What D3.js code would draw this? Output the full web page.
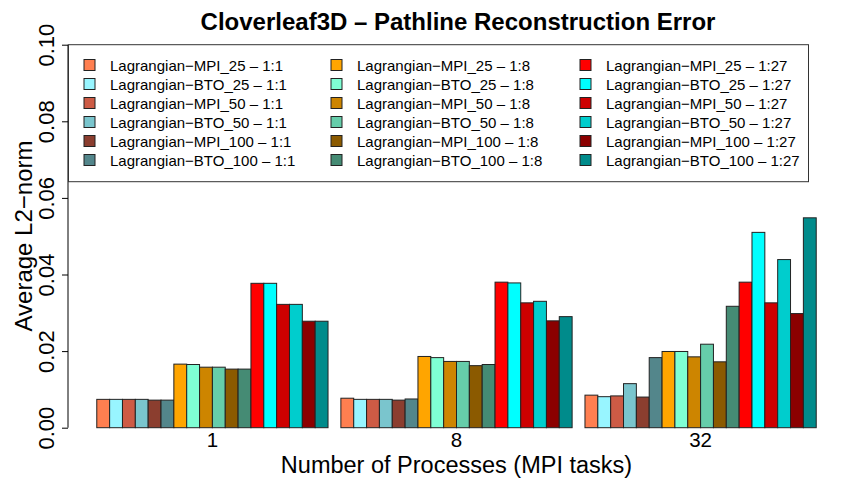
<!DOCTYPE html>
<html>
<head>
<meta charset="utf-8">
<script src="https://cdn.jsdelivr.net/npm/d3@7"></script>
<style>
  html, body { margin: 0; padding: 0; background: #fff; }
  svg { display: block; font-family: "Liberation Sans", Arial, Helvetica, sans-serif; }
</style>
</head>
<body>
<svg id="chart" width="855" height="485"></svg>
<script>
// ---- data ----
const groups = ["1", "8", "32"];
const seriesNames = [
  "Lagrangian\u2212MPI_25 \u2013 1:1", "Lagrangian\u2212BTO_25 \u2013 1:1",
  "Lagrangian\u2212MPI_50 \u2013 1:1", "Lagrangian\u2212BTO_50 \u2013 1:1",
  "Lagrangian\u2212MPI_100 \u2013 1:1", "Lagrangian\u2212BTO_100 \u2013 1:1",
  "Lagrangian\u2212MPI_25 \u2013 1:8", "Lagrangian\u2212BTO_25 \u2013 1:8",
  "Lagrangian\u2212MPI_50 \u2013 1:8", "Lagrangian\u2212BTO_50 \u2013 1:8",
  "Lagrangian\u2212MPI_100 \u2013 1:8", "Lagrangian\u2212BTO_100 \u2013 1:8",
  "Lagrangian\u2212MPI_25 \u2013 1:27", "Lagrangian\u2212BTO_25 \u2013 1:27",
  "Lagrangian\u2212MPI_50 \u2013 1:27", "Lagrangian\u2212BTO_50 \u2013 1:27",
  "Lagrangian\u2212MPI_100 \u2013 1:27", "Lagrangian\u2212BTO_100 \u2013 1:27"
];
const seriesColors = [
  "#FF7F50", "#98F5FF", "#CD5B45", "#7AC5CD", "#8B3E2F", "#53868B",
  "#FFA500", "#7FFFD4", "#CD8500", "#66CDAA", "#8B5A00", "#458B74",
  "#FF0000", "#00FFFF", "#CD0000", "#00CDCD", "#8B0000", "#008B8B"
];
const valuesP1 = [0.0074, 0.0074, 0.0074, 0.0074, 0.0072, 0.0072,
                  0.0166, 0.0165, 0.0158, 0.0158, 0.0153, 0.0153,
                  0.0377, 0.0377, 0.0322, 0.0322, 0.0278, 0.0278];
const valuesP8 = [0.0077, 0.0074, 0.0074, 0.0074, 0.0072, 0.0075,
                  0.0186, 0.0183, 0.0173, 0.0173, 0.0162, 0.0165,
                  0.0380, 0.0378, 0.0326, 0.0330, 0.0279, 0.0290];
const valuesP32 = [0.0085, 0.0081, 0.0083, 0.0115, 0.0080, 0.0183,
                   0.0199, 0.0199, 0.0185, 0.0218, 0.0172, 0.0317,
                   0.0380, 0.0510, 0.0326, 0.0439, 0.0298, 0.0548];
const groupValues = [valuesP1, valuesP8, valuesP32];
const yTicks = [0, 0.02, 0.04, 0.06, 0.08, 0.10];

const titleText = "Cloverleaf3D \u2013 Pathline Reconstruction Error";
const xTitle = "Number of Processes (MPI tasks)";
const yTitle = "Average L2\u2212norm";

// ---- layout (R barplot-like) ----
const svg = d3.select("#chart");
const nSeries = seriesNames.length;
const nUnits = groups.length * (nSeries + 1); // bar units incl. group gaps
const extend = 0.04 * (nUnits - 1);
const x = d3.scaleLinear().domain([1 - extend, nUnits + extend]).range([68, 845]);
const y = d3.scaleLinear().domain([0, 0.1]).range([427.7, 44.7]);

// bars
const bars = [];
groupValues.forEach((vals, g) => {
  vals.forEach((v, i) => {
    bars.push({ g, i, v, left: 1 + g * (nSeries + 1) + i });
  });
});
svg.append("g").selectAll("rect").data(bars).join("rect")
  .attr("x", d => x(d.left))
  .attr("width", d => x(d.left + 1) - x(d.left))
  .attr("y", d => y(d.v))
  .attr("height", d => y(0) - y(d.v))
  .attr("fill", d => seriesColors[d.i])
  .attr("stroke", "#222")
  .attr("stroke-width", 1);

// group labels
svg.append("g").selectAll("text").data(groups).join("text")
  .attr("x", (d, g) => x(1 + g * (nSeries + 1) + nSeries / 2))
  .attr("y", 446.5)
  .attr("text-anchor", "middle")
  .attr("font-size", 20.5)
  .attr("fill", "#000")
  .text(d => d);

// y axis
const yAxis = d3.axisLeft(y).tickValues(yTicks).tickFormat(d3.format(".2f")).tickSize(6).tickPadding(0);
const yg = svg.append("g").attr("transform", "translate(68,0)").call(yAxis);
yg.select(".domain").attr("stroke", "#000").attr("d", `M0,${y(0)}V${y(0.1)}`);
yg.selectAll(".tick line").attr("stroke", "#000");
yg.selectAll(".tick text")
  .attr("font-size", 22)
  .attr("font-family", "Liberation Sans, Arial, sans-serif")
  .attr("fill", "#000")
  .attr("text-anchor", "middle")
  .attr("dy", null)
  .attr("x", null)
  .attr("transform", "translate(-14.5,0) rotate(-90)");

// titles
svg.append("text")
  .attr("x", 458).attr("y", 30)
  .attr("text-anchor", "middle")
  .attr("font-size", 24).attr("font-weight", "bold")
  .text(titleText);
svg.append("text")
  .attr("x", 456.5).attr("y", 472.5)
  .attr("text-anchor", "middle")
  .attr("font-size", 23.5)
  .text(xTitle);
svg.append("text")
  .attr("transform", "translate(32,236) rotate(-90)")
  .attr("text-anchor", "middle")
  .attr("font-size", 24)
  .text(yTitle);

// legend
const legX0 = 68, legY0 = 44.7, legW = 740, legH = 137;
const lg = svg.append("g");
lg.append("rect")
  .attr("x", legX0 + 0.5).attr("y", legY0).attr("width", legW).attr("height", legH)
  .attr("fill", "#fff").attr("stroke", "#333").attr("stroke-width", 1);
const colTextX = [110, 357, 606];
const rowY0 = 65, rowStep = 19;
const items = lg.selectAll("g.item").data(seriesNames).join("g").attr("class", "item")
  .attr("transform", (d, k) => `translate(${colTextX[Math.floor(k / 6)]},${rowY0 + (k % 6) * rowStep})`);
items.append("rect")
  .attr("x", -26).attr("y", -5.5).attr("width", 11).attr("height", 11)
  .attr("fill", (d, k) => seriesColors[k])
  .attr("stroke", "#222").attr("stroke-width", 1);
items.append("text")
  .attr("x", 0).attr("y", 5.5)
  .attr("font-size", 15)
  .text(d => d);
</script>
</body>
</html>
